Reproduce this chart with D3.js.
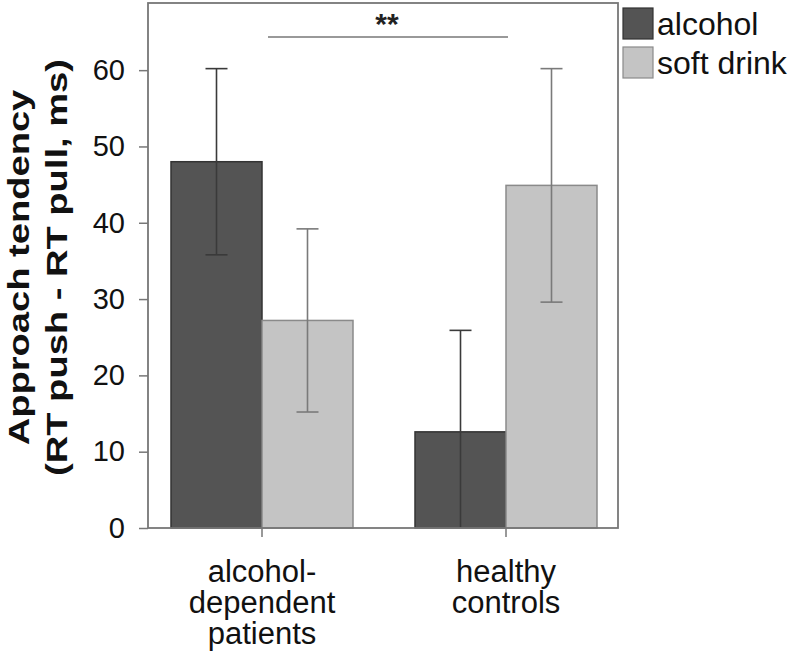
<!DOCTYPE html>
<html>
<head>
<meta charset="utf-8">
<script src="https://cdn.jsdelivr.net/npm/d3@7/dist/d3.min.js"></script>
<style>
  html, body { margin: 0; padding: 0; background: #fff; }
  svg { display: block; font-family: "Liberation Sans", Arial, sans-serif; }
</style>
</head>
<body>
<svg id="chart" width="797" height="660"></svg>
<script>
// ---- data ----
const groups = ["alcohol-dependent patients", "healthy controls"];
const groupLabelLines = [["alcohol-", "dependent", "patients"], ["healthy", "controls"]];
const series = ["alcohol", "soft drink"];
const alcoholValues = [48.0, 12.6];
const softDrinkValues = [27.2, 44.9];
const alcoholErrors = [12.2, 13.3];
const softDrinkErrors = [12.0, 15.3];
const yTicks = [0, 10, 20, 30, 40, 50, 60];
const yTitleLines = ["Approach tendency", "(RT push - RT pull, ms)"];
const significance = "**";

// ---- layout ----
const svg = d3.select("#chart");
const frame = { left: 148, right: 618, top: 3, bottom: 528 };
const colors = { "alcohol": "#545454", "soft drink": "#c4c4c4" };
const strokes = { "alcohol": "#333", "soft drink": "#8a8a8a" };
const errColor = { "alcohol": "#3a3a3a", "soft drink": "#7a7a7a" };

const y = d3.scaleLinear().domain([0, 68.8]).range([frame.bottom, frame.top]);
const x0 = d3.scaleBand().domain(groups).range([140, 628]).padding(0);
const barW = 91;
const x1 = d3.scaleBand().domain(series)
  .range([x0.bandwidth() / 2 - barW, x0.bandwidth() / 2 + barW]).padding(0);

const rows = [];
groups.forEach((g, i) => {
  rows.push({ g, s: "alcohol", v: alcoholValues[i], e: alcoholErrors[i] });
  rows.push({ g, s: "soft drink", v: softDrinkValues[i], e: softDrinkErrors[i] });
});

// bars
svg.append("g").selectAll("rect").data(rows).join("rect")
  .attr("x", d => x0(d.g) + x1(d.s))
  .attr("y", d => y(d.v))
  .attr("width", x1.bandwidth())
  .attr("height", d => y(0) - y(d.v))
  .attr("fill", d => colors[d.s])
  .attr("stroke", d => strokes[d.s])
  .attr("stroke-width", 1.5);

// error bars
const eb = svg.append("g").selectAll("g").data(rows).join("g")
  .attr("transform", d => `translate(${x0(d.g) + x1(d.s) + x1.bandwidth() / 2},0)`);
eb.append("line")
  .attr("y1", d => y(d.v + d.e))
  .attr("y2", d => y(Math.max(0, d.v - d.e)))
  .attr("stroke", d => errColor[d.s]).attr("stroke-width", 1.6);
eb.append("line")
  .attr("x1", -11).attr("x2", 11)
  .attr("y1", d => y(d.v + d.e)).attr("y2", d => y(d.v + d.e))
  .attr("stroke", d => errColor[d.s]).attr("stroke-width", 1.6);
eb.filter(d => d.v - d.e > 0).append("line")
  .attr("x1", -11).attr("x2", 11)
  .attr("y1", d => y(d.v - d.e)).attr("y2", d => y(d.v - d.e))
  .attr("stroke", d => errColor[d.s]).attr("stroke-width", 1.6);

// frame
svg.append("rect")
  .attr("x", frame.left).attr("y", frame.top)
  .attr("width", frame.right - frame.left).attr("height", frame.bottom - frame.top)
  .attr("fill", "none").attr("stroke", "#777").attr("stroke-width", 1.8);

// y axis
const yAxis = svg.append("g")
  .attr("transform", `translate(${frame.left},0)`)
  .call(d3.axisLeft(y).tickValues(yTicks).tickSize(9).tickPadding(14));
yAxis.select(".domain").remove();
yAxis.selectAll(".tick line").attr("stroke", "#777").attr("stroke-width", 1.5);
yAxis.selectAll(".tick text")
  .attr("font-size", 29).attr("fill", "#111")
  .attr("font-family", "Liberation Sans, Arial, sans-serif");

// x axis ticks at group centers
const xAxis = svg.append("g")
  .attr("transform", `translate(0,${frame.bottom})`)
  .call(d3.axisBottom(x0).tickSize(9).tickFormat(""));
xAxis.select(".domain").remove();
xAxis.selectAll(".tick line").attr("stroke", "#777").attr("stroke-width", 1.5);

// category labels
groups.forEach((g, i) => {
  const t = svg.append("text")
    .attr("text-anchor", "middle")
    .attr("font-size", 31).attr("fill", "#111");
  groupLabelLines[i].forEach((line, k) => {
    t.append("tspan")
      .attr("x", x0(g) + x0.bandwidth() / 2)
      .attr("y", 582 + k * 31)
      .text(line);
  });
});

// y title (stretched along its length as in the reference)
const yt = svg.append("text")
  .attr("transform", `translate(0,${(frame.top + frame.bottom) / 2 + 2}) rotate(-90) scale(1.27,1)`)
  .attr("text-anchor", "middle").attr("font-weight", "bold")
  .attr("font-size", 30).attr("fill", "#111");
yTitleLines.forEach((line, k) => {
  yt.append("tspan").attr("x", 0).attr("y", 29 + k * 38).text(line);
});

// significance bracket
svg.append("line")
  .attr("x1", 268).attr("x2", 508)
  .attr("y1", 37).attr("y2", 37)
  .attr("stroke", "#777").attr("stroke-width", 1.5);
svg.append("text")
  .attr("x", 387).attr("y", 34)
  .attr("text-anchor", "middle").attr("font-size", 30).attr("font-weight", "bold")
  .attr("fill", "#222").text(significance);

// legend
const lg = svg.append("g").selectAll("g").data(series).join("g")
  .attr("transform", (d, i) => `translate(623,${8 + i * 39})`);
lg.append("rect")
  .attr("width", 30).attr("height", 31)
  .attr("fill", d => colors[d]).attr("stroke", d => strokes[d]).attr("stroke-width", 1.2);
lg.append("text")
  .attr("x", 34).attr("y", 27)
  .attr("font-size", 32).attr("fill", "#111")
  .text(d => d);
</script>
</body>
</html>
